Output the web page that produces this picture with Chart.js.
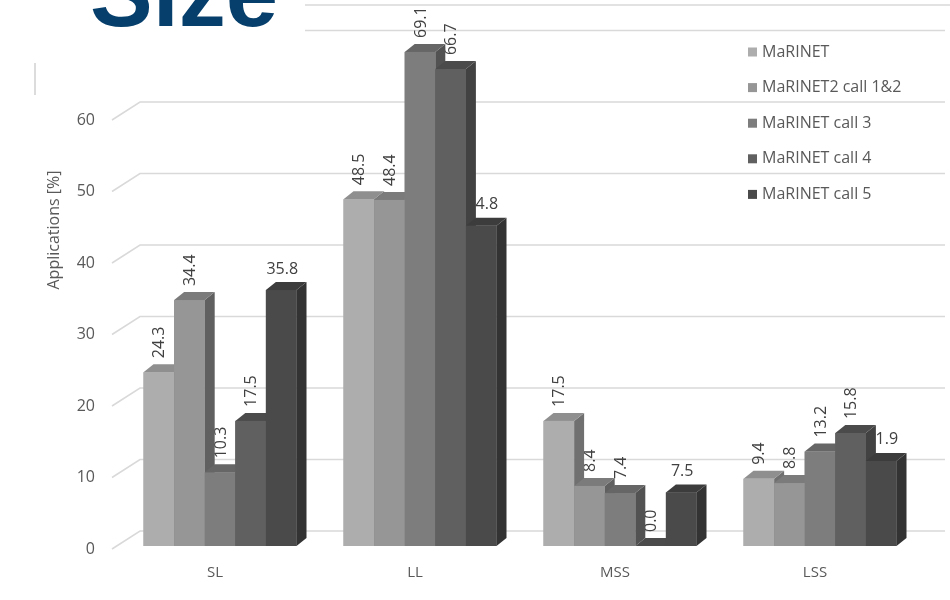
<!DOCTYPE html>
<html>
<head>
<meta charset="utf-8">
<script src="https://cdn.jsdelivr.net/npm/chart.js@4.4.1/dist/chart.umd.min.js"></script>
<style>
  html, body { margin: 0; padding: 0; background: #fff; }
  #wrap { width: 950px; height: 600px; }
</style>
</head>
<body>
<div id="wrap"><canvas id="sizeChart" width="950" height="600"></canvas></div>
<script>
// data
const categories = ["SL", "LL", "MSS", "LSS"];
const seriesNames = ["MaRINET", "MaRINET2 call 1&2", "MaRINET call 3", "MaRINET call 4", "MaRINET call 5"];
const marinet = [24.3, 48.5, 17.5, 9.4];
const marinet2 = [34.4, 48.4, 8.4, 8.8];
const call3 = [10.3, 69.1, 7.4, 13.2];
const call4 = [17.5, 66.7, 0.0, 15.8];
const call5 = [35.8, 44.8, 7.5, 11.9];
const yTicks = [0, 10, 20, 30, 40, 50, 60, 70];

const seriesValues = [marinet, marinet2, call3, call4, call5];
const frontColors = ["#adadad", "#969696", "#7d7d7d", "#606060", "#4a4a4a"];
const topColors = ["#8f8f8f", "#7b7b7b", "#666666", "#4b4b4b", "#3c3c3c"];
const sideColors = ["#707070", "#606060", "#525252", "#424242", "#333333"];

const textColor = "#595959";
const gridColor = "#d9d9d9";
const fontFamily = "'Open Sans', sans-serif";
const DX = 10;
const DY = 8;

// back wall grid lines + slanted tick marks
const wallPlugin = {
  id: "wall",
  beforeDatasetsDraw(chart) {
    const ctx = chart.ctx;
    const yScale = chart.scales.y;
    const { left, right } = chart.chartArea;
    ctx.save();
    ctx.strokeStyle = gridColor;
    ctx.lineWidth = 1.5;
    yTicks.forEach((v) => {
      const y = yScale.getPixelForValue(v);
      ctx.beginPath();
      ctx.moveTo(left - 8, y + 3);
      ctx.lineTo(left + 20, y - 15);
      ctx.lineTo(right + 25, y - 15);
      ctx.stroke();
    });
    ctx.restore();
  },
};

// fake 3d columns, drawn left to right inside each group, labels first
const bars3dPlugin = {
  id: "bars3d",
  afterDatasetsDraw(chart) {
    const ctx = chart.ctx;
    const metas = seriesValues.map((_, i) => chart.getDatasetMeta(i));
    ctx.save();
    categories.forEach((cat, j) => {
      metas.forEach((meta, i) => {
        const bar = meta.data[j];
        const text = seriesValues[i][j].toFixed(1);
        ctx.fillStyle = "#404040";
        ctx.font = "16px " + fontFamily;
        if (i === 4) {
          ctx.textAlign = "center";
          ctx.textBaseline = "middle";
          ctx.fillText(text, bar.x + 1, bar.y - 21);
        } else {
          ctx.save();
          ctx.translate(bar.x + 1, bar.y - 14);
          ctx.rotate(-Math.PI / 2);
          ctx.textAlign = "left";
          ctx.textBaseline = "middle";
          ctx.fillText(text, 0, 0);
          ctx.restore();
        }
      });
      metas.forEach((meta, i) => {
        const bar = meta.data[j];
        const l = bar.x - bar.width / 2;
        const r = bar.x + bar.width / 2;
        const top = bar.y;
        const base = bar.base;
        // side
        ctx.fillStyle = sideColors[i];
        ctx.beginPath();
        ctx.moveTo(r, base);
        ctx.lineTo(r + DX, base - DY);
        ctx.lineTo(r + DX, top - DY);
        ctx.lineTo(r, top);
        ctx.closePath();
        ctx.fill();
        // top
        ctx.fillStyle = topColors[i];
        ctx.beginPath();
        ctx.moveTo(l, top);
        ctx.lineTo(l + DX, top - DY);
        ctx.lineTo(r + DX, top - DY);
        ctx.lineTo(r, top);
        ctx.closePath();
        ctx.fill();
        // front
        ctx.fillStyle = frontColors[i];
        ctx.fillRect(l, top, r - l, base - top);
      });
    });
    ctx.restore();
  },
};

// title block, frame bits, axis title and legend
const overlayPlugin = {
  id: "overlay",
  afterDraw(chart) {
    const ctx = chart.ctx;
    ctx.save();
    ctx.strokeStyle = gridColor;
    ctx.lineWidth = 1.5;
    ctx.beginPath();
    ctx.moveTo(305, 5);
    ctx.lineTo(950, 5);
    ctx.stroke();

    ctx.fillStyle = "#ffffff";
    ctx.fillRect(0, 0, 305, 62);

    ctx.strokeStyle = "#d0d0d0";
    ctx.beginPath();
    ctx.moveTo(35, 63);
    ctx.lineTo(35, 95);
    ctx.stroke();

    ctx.fillStyle = "#063f6b";
    ctx.font = "bold 94px 'Liberation Sans', Arial, sans-serif";
    ctx.textAlign = "left";
    ctx.textBaseline = "alphabetic";
    ctx.fillText("Size", 90, 26);

    ctx.save();
    ctx.translate(54, 230);
    ctx.rotate(-Math.PI / 2);
    ctx.fillStyle = textColor;
    ctx.font = "16px " + fontFamily;
    ctx.textAlign = "center";
    ctx.textBaseline = "middle";
    ctx.fillText("Applications [%]", 0, 0);
    ctx.restore();

    ctx.font = "16px " + fontFamily;
    ctx.textAlign = "left";
    ctx.textBaseline = "middle";
    chart.data.datasets.forEach((ds, i) => {
      const y = 52 + i * 35.6;
      ctx.fillStyle = ds.backgroundColor;
      ctx.fillRect(748, y - 4.5, 9, 9);
      ctx.fillStyle = textColor;
      ctx.fillText(ds.label, 762, y);
    });
    ctx.restore();
  },
};

const ctx = document.getElementById("sizeChart");
new Chart(ctx, {
  type: "bar",
  data: {
    labels: categories,
    datasets: seriesValues.map((vals, i) => ({
      label: seriesNames[i],
      data: vals,
      backgroundColor: frontColors[i],
      borderWidth: 0,
      categoryPercentage: 0.765,
      barPercentage: 1,
    })),
  },
  options: {
    responsive: false,
    animation: false,
    layout: { padding: { top: 45.5, right: 30, left: 0, bottom: 0 } },
    plugins: { legend: { display: false }, tooltip: { enabled: false } },
    scales: {
      x: {
        grid: { display: false, drawTicks: false },
        border: { display: false },
        ticks: { color: textColor, font: { family: fontFamily, size: 15 }, padding: 18, labelOffset: -5 },
        afterFit: (s) => { s.height = 54; },
      },
      y: {
        min: 0,
        max: 70,
        grid: { display: false, drawTicks: false },
        border: { display: false },
        ticks: { stepSize: 10, color: textColor, font: { family: fontFamily, size: 16 }, padding: 25, labelOffset: 3 },
        afterFit: (s) => { s.width = 120; },
      },
    },
  },
  plugins: [wallPlugin, bars3dPlugin, overlayPlugin],
});
</script>
</body>
</html>
